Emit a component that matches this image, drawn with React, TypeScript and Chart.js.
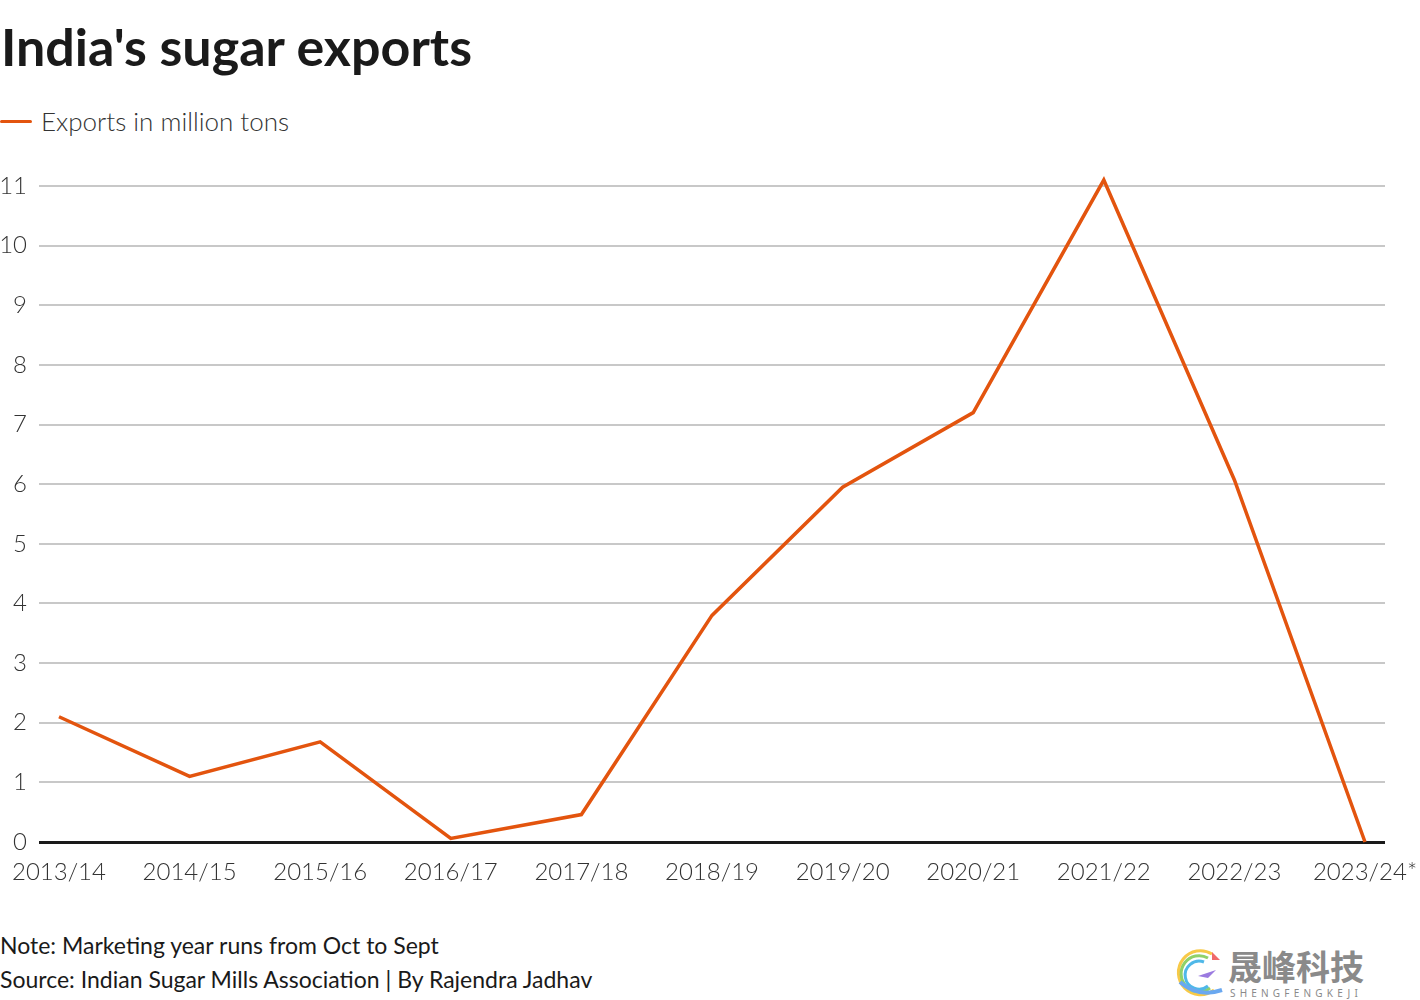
import React, { useEffect, useRef } from "react";
import { Chart, registerables } from "chart.js";

Chart.register(...registerables);

const categories = ["2013/14", "2014/15", "2015/16", "2016/17", "2017/18", "2018/19", "2019/20", "2020/21", "2021/22", "2022/23", "2023/24*"];
const exportsMt = [2.1, 1.1, 1.68, 0.06, 0.46, 3.8, 5.95, 7.2, 11.1, 6.07, 0];
const yTicks = [0, 1, 2, 3, 4, 5, 6, 7, 8, 9, 10, 11];

const TITLE = "India's sugar exports";
const LEGEND = "Exports in million tons";
const NOTE = "Note: Marketing year runs from Oct to Sept";
const SOURCE = "Source: Indian Sugar Mills Association | By Rajendra Jadhav";

const ORANGE = "#E3540E";
const FONT = "'Source Sans Pro', Lato, 'Noto Sans', sans-serif";

export default function App() {
  const ref = useRef<HTMLCanvasElement | null>(null);

  useEffect(() => {
    document.body.style.margin = "0";
    if (!ref.current) return;
    const chart = new Chart(ref.current, {
      type: "line",
      data: {
        datasets: [
          {
            label: LEGEND,
            data: exportsMt.map((v, i) => ({ x: i, y: v })),
            borderColor: ORANGE,
            borderWidth: 3.5,
            pointRadius: 0,
            tension: 0,
            clip: false as any,
            fill: false,
          },
        ],
      },
      options: {
        animation: false,
        responsive: false,
        maintainAspectRatio: false,
        layout: { padding: { top: 36, right: 35, left: 0, bottom: 0 } },
        plugins: { legend: { display: false }, tooltip: { enabled: false } },
        scales: {
          x: {
            type: "linear",
            min: -0.153,
            max: 10.153,
            afterBuildTicks: (scale: any) => {
              scale.ticks = categories.map((_, i) => ({ value: i }));
            },
            afterFit: (scale: any) => {
              scale.height = 68;
              scale.paddingLeft = 0;
              scale.paddingRight = 0;
            },
            grid: { display: false },
            border: { display: false },
            ticks: {
              autoSkip: false,
              maxRotation: 0,
              padding: 8,
              color: "#333",
              font: { family: FONT, size: 24, weight: "300" as any },
              callback: (v: any) => categories[Math.round(Number(v))] ?? "",
            },
          },
          y: {
            min: 0,
            max: 11,
            afterBuildTicks: (scale: any) => {
              scale.ticks = yTicks.map((v) => ({ value: v }));
            },
            afterFit: (scale: any) => {
              scale.width = 39;
            },
            border: { display: false },
            grid: {
              drawTicks: false,
              color: (ctx: any) => (ctx.tick && ctx.tick.value === 0 ? "#1a1a1a" : "#c8c8c8"),
              lineWidth: (ctx: any) => (ctx.tick && ctx.tick.value === 0 ? 3 : 2),
            },
            ticks: {
              padding: 12,
              color: "#333",
              font: { family: FONT, size: 24, weight: "300" as any },
            },
          },
        },
      },
    });
    return () => chart.destroy();
  }, []);

  return (
    <div style={{ position: "fixed", left: 0, top: 0, width: 1420, height: 1000, background: "#fff", fontFamily: FONT, overflow: "hidden" }}>
      <div style={{ position: "absolute", left: 1, top: 14, fontSize: 52, fontWeight: 700, color: "#1a1a1a", lineHeight: "64px", whiteSpace: "nowrap" }}>
        {TITLE}
      </div>
      <div style={{ position: "absolute", left: 0, top: 104, height: 34, display: "flex", alignItems: "center" }}>
        <div style={{ width: 32, height: 3, background: ORANGE, borderRadius: 2 }} />
        <span style={{ marginLeft: 9, fontSize: 26, fontWeight: 300, color: "#333", whiteSpace: "nowrap" }}>{LEGEND}</span>
      </div>
      <canvas ref={ref} width={1420} height={760} style={{ position: "absolute", left: 0, top: 150, width: 1420, height: 760 }} />
      <div style={{ position: "absolute", left: 0, top: 929, fontSize: 23, color: "#1a1a1a", lineHeight: "33px", whiteSpace: "nowrap" }}>
        <div>{NOTE}</div>
        <div style={{ marginTop: 1 }}>{SOURCE}</div>
      </div>
      <div style={{ position: "absolute", left: 1168, top: 946, width: 56, height: 54 }}>
        <svg width="56" height="54" viewBox="0 0 56 54">
          <path d="M44 8 A22 22 0 1 0 46 44" fill="none" stroke="#f7c948" strokeWidth="3" />
          <path d="M40 12 A18 18 0 1 0 42 42" fill="none" stroke="#8fd16a" strokeWidth="3" />
          <path d="M36 16 A14 14 0 1 0 40 40" fill="none" stroke="#4fb8e8" strokeWidth="3" />
          <path d="M12 36 Q30 52 54 44" fill="none" stroke="#6aa8f0" strokeWidth="4" />
          <path d="M30 30 L48 24 L40 32 Z" fill="#9b7be0" />
          <path d="M44 6 L52 14 L44 14 Z" fill="#f06a6a" />
        </svg>
      </div>
      <div style={{ position: "absolute", left: 1228, top: 946, fontFamily: "'Noto Sans CJK SC', sans-serif", fontSize: 34, fontWeight: 700, color: "#8a8a8a", lineHeight: "40px", whiteSpace: "nowrap" }}>
        晟峰科技
      </div>
      <div style={{ position: "absolute", left: 1230, top: 987, fontFamily: "'Noto Sans', sans-serif", fontSize: 10, letterSpacing: 4.2, color: "#8a8a8a", lineHeight: "12px", whiteSpace: "nowrap" }}>
        SHENGFENGKEJI
      </div>
    </div>
  );
}
